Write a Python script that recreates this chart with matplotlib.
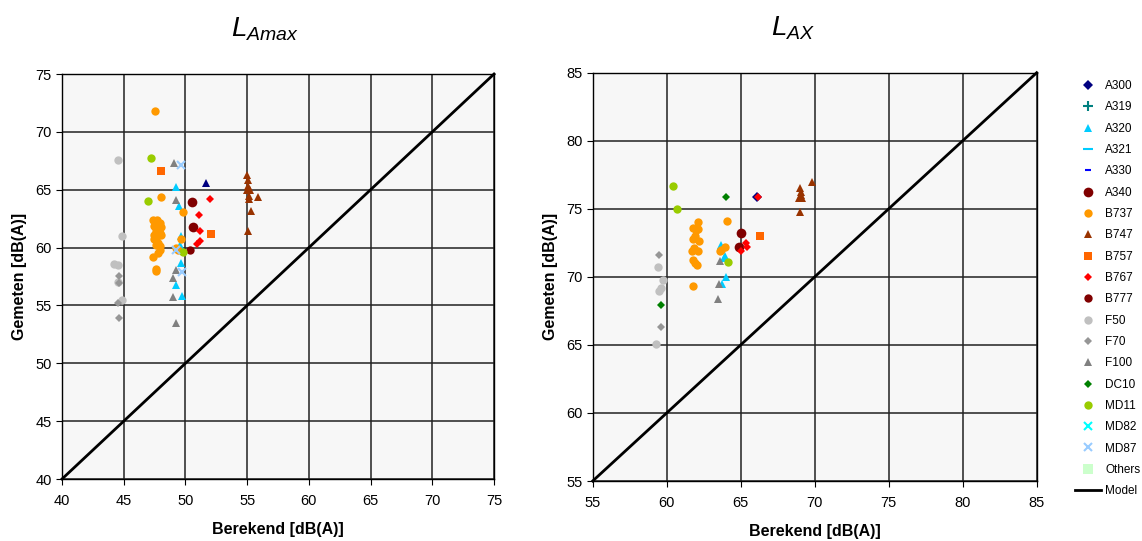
import matplotlib
matplotlib.use('Agg')
import matplotlib.pyplot as plt
from matplotlib.lines import Line2D
import numpy as np

plt.rcParams['font.family'] = ['Liberation Sans', 'DejaVu Sans']
plt.rcParams['mathtext.fontset'] = 'custom'
plt.rcParams['mathtext.it'] = 'Liberation Sans:italic'
plt.rcParams['mathtext.rm'] = 'Liberation Sans'

# stijl per vliegtuigtype: (kleur, marker, grootte)
types = ['A300', 'A319', 'A320', 'A321', 'A330', 'A340', 'B737', 'B747', 'B757',
         'B767', 'B777', 'F50', 'F70', 'F100', 'DC10', 'MD11', 'MD82', 'MD87', 'Others']
style = {
    'A300': ('#000080', 'D', 5),
    'A319': ('#008080', '+', 7),
    'A320': ('#00ccff', '^', 6),
    'A321': ('#00ccff', '_', 7),
    'A330': ('#0000ff', '_', 4),
    'A340': ('#800000', 'o', 7),
    'B737': ('#ff9900', 'o', 6),
    'B747': ('#993300', '^', 6),
    'B757': ('#ff6600', 's', 6),
    'B767': ('#ff0000', 'D', 4),
    'B777': ('#800000', 'o', 6),
    'F50': ('#c0c0c0', 'o', 6),
    'F70': ('#969696', 'D', 4),
    'F100': ('#808080', '^', 6),
    'DC10': ('#008000', 'D', 4),
    'MD11': ('#99cc00', 'o', 6),
    'MD82': ('#00ffff', 'x', 6),
    'MD87': ('#99ccff', 'x', 6),
    'Others': ('#ccffcc', 's', 7),
}

# LAmax: berekend / gemeten
lamax_A300_x = [51.7]
lamax_A300_y = [65.6]
lamax_A320_x = [49.2, 49.45, 49.6, 49.55, 49.6, 49.25, 49.7]
lamax_A320_y = [65.2, 63.55, 61.0, 60.25, 58.7, 56.75, 55.85]
lamax_A340_x = [50.55, 50.6]
lamax_A340_y = [63.9, 61.8]
lamax_B777_x = [50.4]
lamax_B777_y = [59.8]
lamax_B737_x = [47.5, 48.05, 49.8, 49.6, 49.25, 49.4,
                47.35, 47.7, 47.9, 47.45, 48.05, 47.6, 47.9, 47.45, 48.05, 47.65,
                47.45, 47.8, 47.95, 47.6, 47.95, 47.8, 47.35, 47.65, 47.6]
lamax_B737_y = [71.8, 64.4, 63.1, 60.7, 59.95, 59.8,
                62.4, 62.35, 62.1, 61.85, 61.8, 61.4, 61.25, 61.05, 61.1, 60.7,
                60.7, 60.4, 60.1, 60.2, 59.75, 59.55, 59.2, 58.15, 58.0]
lamax_B747_x = [54.95, 55.05, 55.05, 55.2, 55.0, 55.15, 55.15, 55.9, 55.3, 55.1]
lamax_B747_y = [66.3, 65.8, 65.3, 65.0, 64.95, 64.5, 64.2, 64.4, 63.2, 61.4]
lamax_B757_x = [48.0, 52.1]
lamax_B757_y = [66.6, 61.2]
lamax_B767_x = [52.0, 51.1, 51.2, 51.15, 50.95]
lamax_B767_y = [64.2, 62.8, 61.4, 60.55, 60.35]
lamax_F50_x = [44.5, 44.9, 44.2, 44.5, 44.9, 44.55]
lamax_F50_y = [67.6, 61.0, 58.6, 58.5, 55.5, 57.0]
lamax_F70_x = [44.65, 44.65, 44.5, 44.65]
lamax_F70_y = [57.55, 56.9, 55.2, 53.9]
lamax_F100_x = [49.05, 49.25, 49.2, 49.0, 49.0, 49.2]
lamax_F100_y = [67.3, 64.15, 58.05, 57.4, 55.7, 53.45]
lamax_MD11_x = [47.2, 47.0, 49.8]
lamax_MD11_y = [67.7, 64.0, 59.6]
lamax_MD87_x = [49.6, 49.7, 49.25]
lamax_MD87_y = [67.15, 57.9, 59.75]

# LAX: berekend / gemeten
lax_A300_x = [66.1]
lax_A300_y = [75.9]
lax_A320_x = [63.65, 63.95, 64.0, 63.75, 63.9]
lax_A320_y = [72.35, 71.5, 70.0, 69.45, 71.4]
lax_A340_x = [65.0, 64.9]
lax_A340_y = [73.2, 72.2]
lax_B737_x = [62.1, 61.8, 62.1, 61.9, 61.8, 62.2, 61.7, 62.1, 61.85, 61.8,
              61.9, 62.05, 61.8, 64.1, 63.95, 63.7, 63.6, 62.0]
lax_B737_y = [74.0, 73.6, 73.5, 73.0, 72.8, 72.6, 71.9, 71.9, 72.1, 71.25,
              71.05, 70.85, 69.3, 74.1, 72.2, 72.0, 71.9, 73.45]
lax_B747_x = [69.0, 69.05, 69.1, 68.95, 69.15, 69.0, 69.8]
lax_B747_y = [76.5, 76.25, 76.0, 75.8, 75.8, 74.8, 77.0]
lax_B757_x = [66.3]
lax_B757_y = [73.0]
lax_B767_x = [65.05, 65.35, 65.45, 66.15]
lax_B767_y = [71.9, 72.5, 72.2, 75.9]
lax_F50_x = [59.4, 59.75, 59.6, 59.45, 59.25]
lax_F50_y = [70.7, 69.75, 69.2, 68.95, 65.1]
lax_F70_x = [59.5, 59.6]
lax_F70_y = [71.6, 66.3]
lax_F100_x = [63.6, 63.5, 63.45]
lax_F100_y = [71.2, 69.5, 68.4]
lax_DC10_x = [59.6, 64.0]
lax_DC10_y = [67.9, 75.9]
lax_MD11_x = [60.45, 60.7, 64.15]
lax_MD11_y = [76.7, 75.0, 71.1]

lamax = {
    'A320': (lamax_A320_x, lamax_A320_y),
    'A340': (lamax_A340_x, lamax_A340_y),
    'B737': (lamax_B737_x, lamax_B737_y),
    'B747': (lamax_B747_x, lamax_B747_y),
    'B757': (lamax_B757_x, lamax_B757_y),
    'B767': (lamax_B767_x, lamax_B767_y),
    'B777': (lamax_B777_x, lamax_B777_y),
    'F50': (lamax_F50_x, lamax_F50_y),
    'F70': (lamax_F70_x, lamax_F70_y),
    'F100': (lamax_F100_x, lamax_F100_y),
    'MD11': (lamax_MD11_x, lamax_MD11_y),
    'MD87': (lamax_MD87_x, lamax_MD87_y),
}
lax = {
    'A300': (lax_A300_x, lax_A300_y),
    'A320': (lax_A320_x, lax_A320_y),
    'A340': (lax_A340_x, lax_A340_y),
    'B737': (lax_B737_x, lax_B737_y),
    'B747': (lax_B747_x, lax_B747_y),
    'B757': (lax_B757_x, lax_B757_y),
    'B767': (lax_B767_x, lax_B767_y),
    'F50': (lax_F50_x, lax_F50_y),
    'F70': (lax_F70_x, lax_F70_y),
    'F100': (lax_F100_x, lax_F100_y),
    'DC10': (lax_DC10_x, lax_DC10_y),
    'MD11': (lax_MD11_x, lax_MD11_y),
}

fig = plt.figure(figsize=(11.42, 5.41), dpi=100)
ax1 = fig.add_axes([0.0543, 0.1146, 0.3783, 0.7486])
ax2 = fig.add_axes([0.519, 0.1109, 0.3888, 0.7547])


def setup(ax, lo, hi, title, tx):
    ax.set_facecolor('#f7f7f7')
    ax.set_xlim(lo, hi)
    ax.set_ylim(lo, hi)
    ticks = np.arange(lo, hi + 1, 5)
    ax.set_xticks(ticks)
    ax.set_yticks(ticks)
    ax.grid(True, color='#222222', lw=1.1)
    ax.set_axisbelow(True)
    for s in ax.spines.values():
        s.set_color('black')
        s.set_linewidth(1.0)
    ax.tick_params(labelsize=10.5, direction='out', length=4, color='black')
    ax.tick_params(axis='x', pad=7)
    ax.set_xlabel('Berekend [dB(A)]', fontsize=11.5, fontweight='bold', labelpad=10)
    ax.set_ylabel('Gemeten [dB(A)]', fontsize=11.5, fontweight='bold', labelpad=6)
    ax.set_title(title, fontsize=20, pad=27, x=tx)
    ax.plot([lo, hi], [lo, hi], color='black', lw=2, zorder=3, clip_on=False)


def scatter(ax, data):
    for name, (xs, ys) in data.items():
        c, m, ms = style[name]
        ax.plot(xs, ys, ls='none', marker=m, color=c, ms=ms, mew=1.5 if m in '+x_' else 0,
                zorder=4, clip_on=False)


setup(ax1, 40, 75, r'$L_{Amax}$', 0.47)
setup(ax2, 55, 85, r'$L_{AX}$', 0.45)
scatter(ax1, lamax)
# A300 staat links als driehoekje
ax1.plot(lamax_A300_x, lamax_A300_y, ls='none', marker='^', color=style['A300'][0], ms=6, mew=0, zorder=4)
scatter(ax2, lax)

handles = []
for name in types:
    c, m, ms = style[name]
    handles.append(Line2D([], [], ls='none', marker=m, color=c, ms=ms,
                          mew=1.5 if m in '+x_' else 0, label=name))
handles.append(Line2D([], [], color='black', lw=2, label='Model'))
fig.legend(handles=handles, loc='upper left', bbox_to_anchor=(0.941, 0.852),
           frameon=False, fontsize=8.5, labelspacing=0.79, handlelength=2.2,
           handletextpad=0.4, borderaxespad=0, borderpad=0)

fig.savefig('out.png', dpi=100)
